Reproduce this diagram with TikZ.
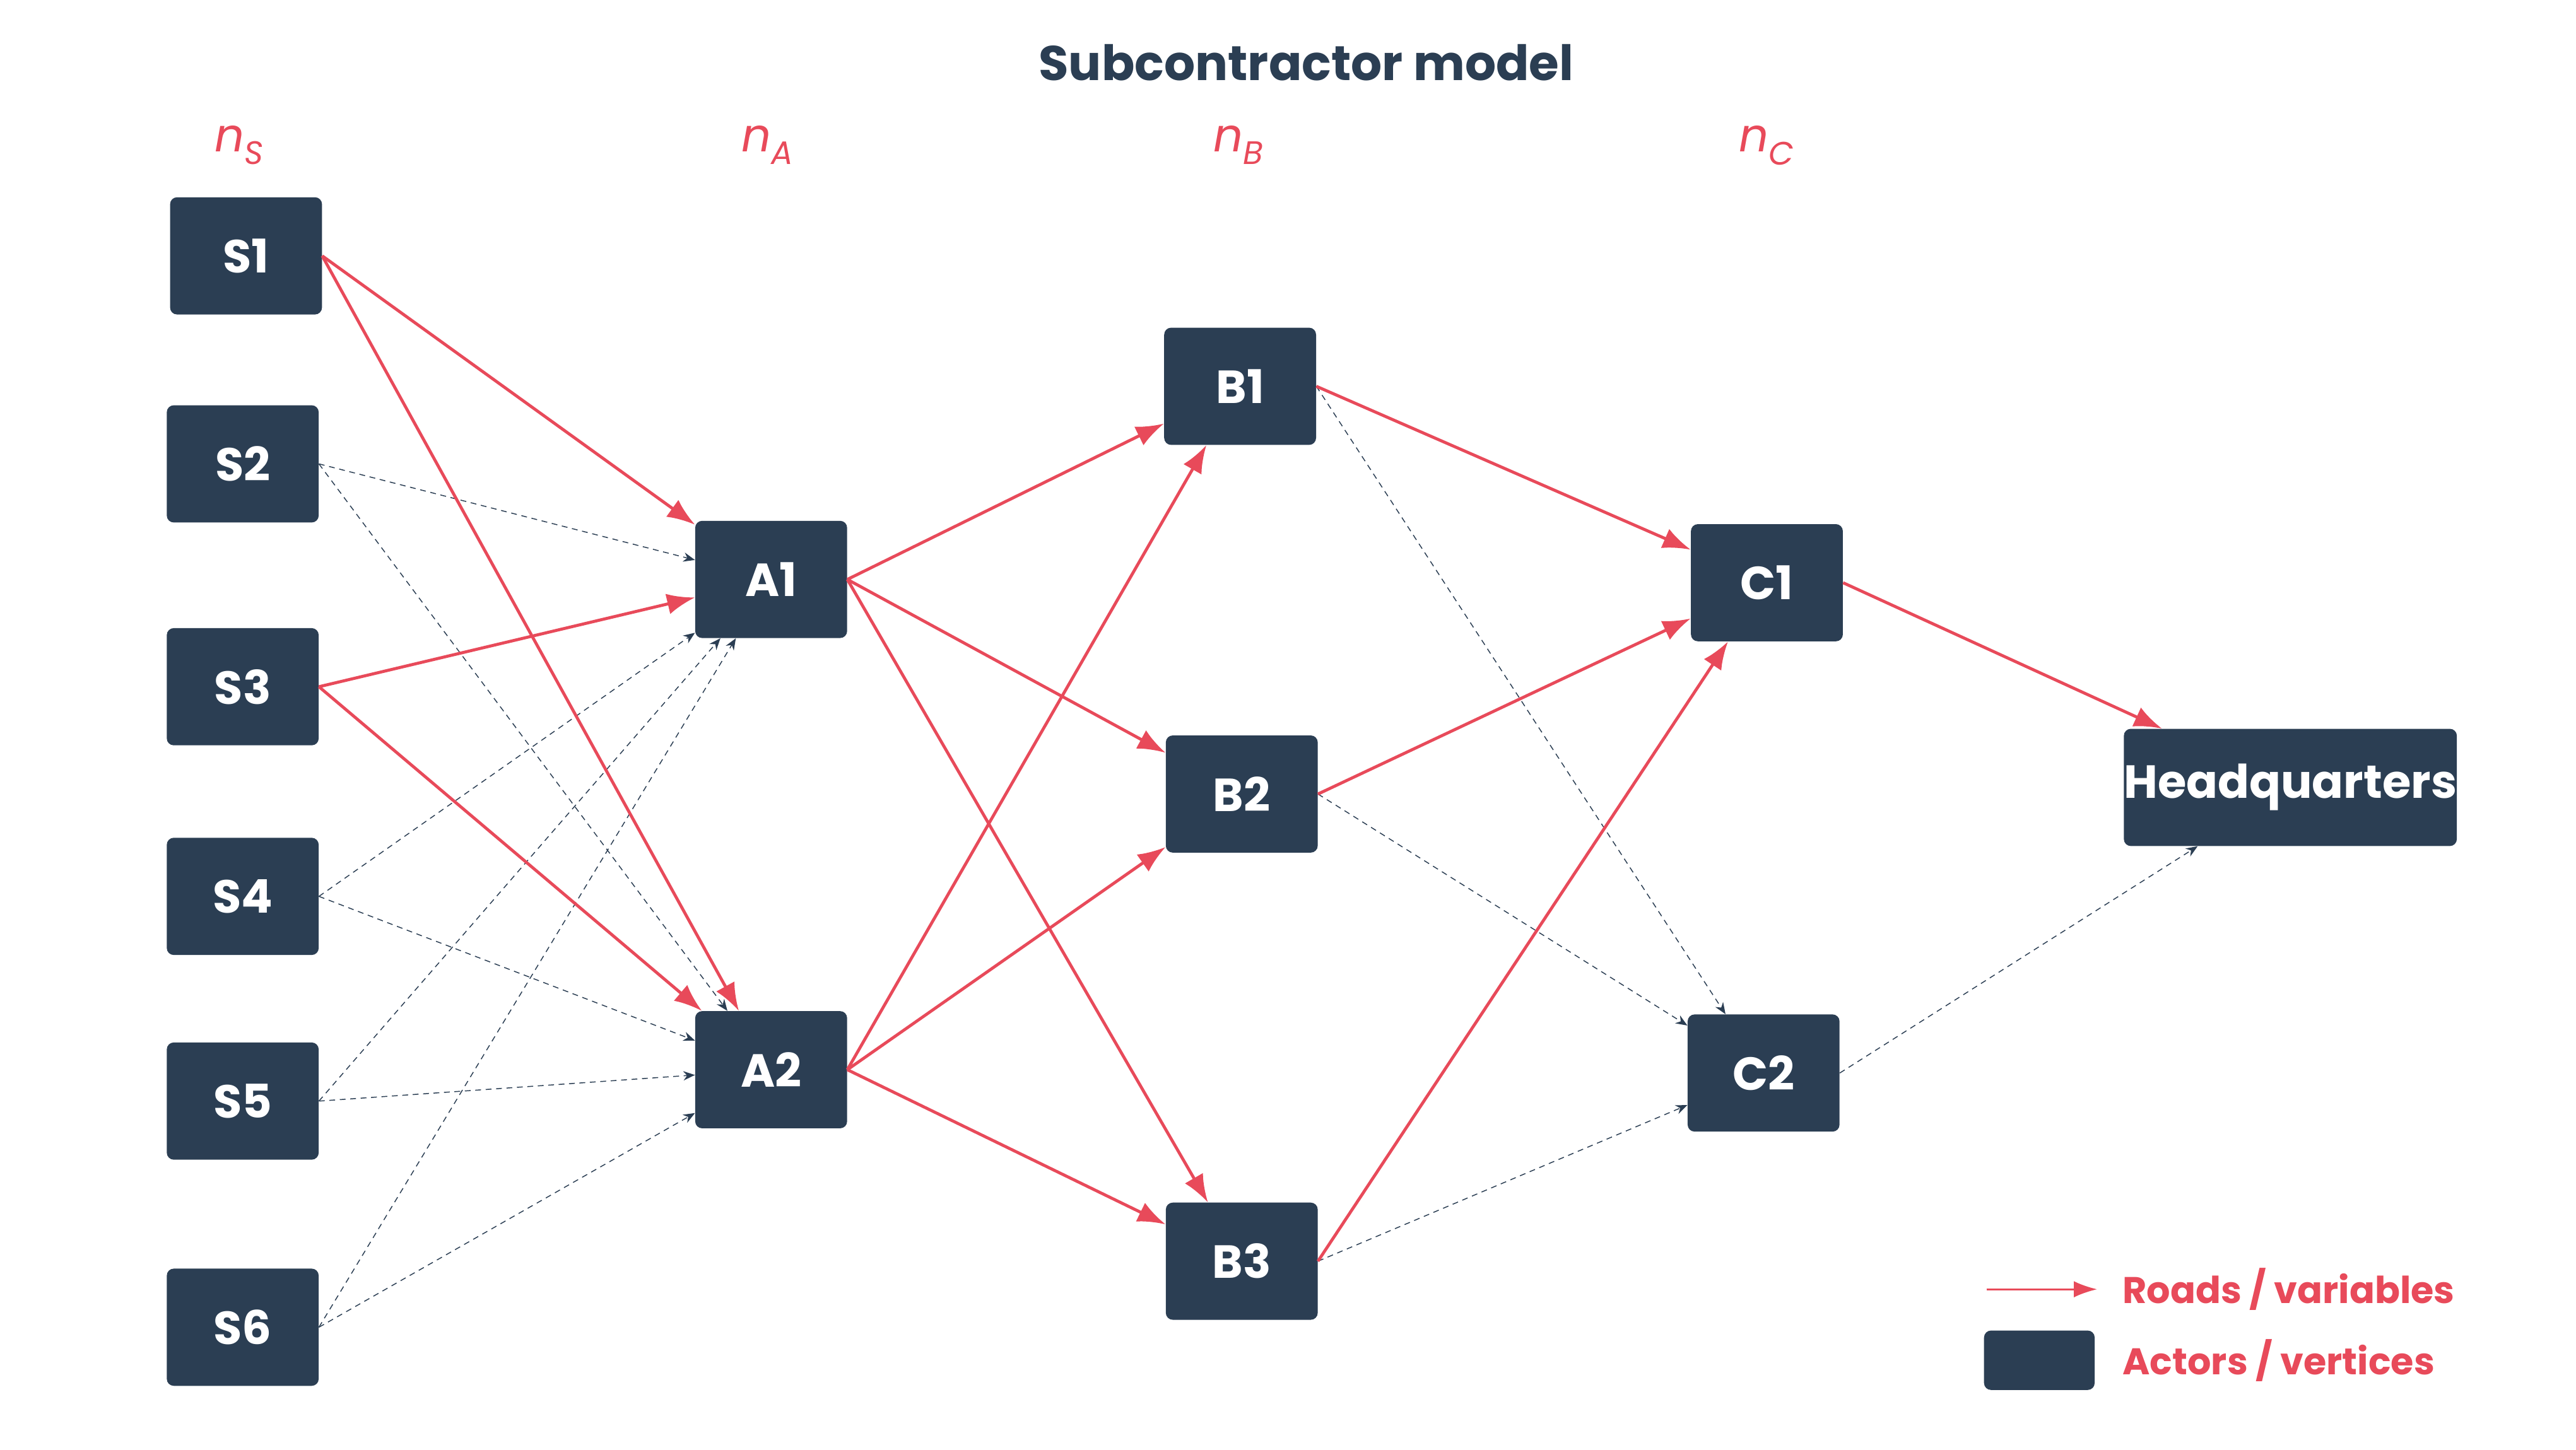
\documentclass[tikz,border=0pt]{standalone}
\usepackage{fontspec}
\setmainfont{Poppins}
\usetikzlibrary{arrows.meta}
\definecolor{navy}{HTML}{2B3E53}
\definecolor{rd}{HTML}{E84A5A}
\begin{document}
\begin{tikzpicture}[x=0.05cm,y=-0.05cm,
 box/.style={fill=navy,rounded corners=6pt,minimum width=4.6cm,minimum height=3.55cm,text=white,font=\fontsize{40}{48}\selectfont\bfseries,inner sep=0pt},
 road/.style={draw=rd,line width=2.6pt,-{Latex[length=24pt,width=18pt]}},
 dep/.style={draw=navy,line width=0.8pt,dash pattern=on 5pt off 4pt,-{Stealth[length=10pt,width=8pt]}},
 lab/.style={text=rd,font=\fontsize{40}{48}\selectfont\itshape}]
\useasboundingbox (0,0) rectangle (1560,878);
\node[font=\fontsize{42}{50}\selectfont\bfseries,text=navy] (title) at (791,38) {Subcontractor model};
\node[lab] (ns) at (145,88) {n\textsubscript{S}};
\node[lab] (na) at (465,88) {n\textsubscript{A}};
\node[lab] (nb) at (750,88) {n\textsubscript{B}};
\node[lab] (nc) at (1070,88) {n\textsubscript{C}};
\node[box] (S1) at (149,155) {S1};
\node[box] (S2) at (147,281) {S2};
\node[box] (S3) at (147,416) {S3};
\node[box] (S4) at (147,543) {S4};
\node[box] (S5) at (147,667) {S5};
\node[box] (S6) at (147,804) {S6};
\node[box] (A1) at (467,351) {A1};
\node[box] (A2) at (467,648) {A2};
\node[box] (B1) at (751,234) {B1};
\node[box] (B2) at (752,481) {B2};
\node[box] (B3) at (752,764) {B3};
\node[box] (C1) at (1070,353) {C1};
\node[box] (C2) at (1068,650) {C2};
\node[box,minimum width=10cm] (HQ) at (1387,477) {Headquarters};
% dashed
\foreach \s in {S2,S4,S5,S6}{\draw[dep] (\s.east) -- (A1); \draw[dep] (\s.east) -- (A2);}
\foreach \b in {B1,B2,B3}{\draw[dep] (\b.east) -- (C2);}
\draw[dep] (C2.east) -- (HQ);
% red
\foreach \s/\t in {S1/A1,S1/A2,S3/A1,S3/A2,A1/B1,A1/B2,A1/B3,A2/B1,A2/B2,A2/B3,B1/C1,B2/C1,B3/C1,C1/HQ}
 {\draw[road] (\s.east) -- (\t);}
% legend
\coordinate (l1) at (1203,781);
\coordinate (l2) at (1270,781);
\draw[draw=rd,line width=1.5pt,-{Latex[length=20pt,width=14pt]}] (l1) -- (l2);
\node[anchor=west,text=rd,font=\fontsize{32}{38}\selectfont\bfseries] (t1) at (1283,781) {Roads / variables};
\node[fill=navy,rounded corners=6pt,minimum width=3.35cm,minimum height=1.8cm,inner sep=0pt] (lb) at (1235,824) {};
\node[anchor=west,text=rd,font=\fontsize{32}{38}\selectfont\bfseries] (t2) at (1283,824) {Actors / vertices};
\end{tikzpicture}
\end{document}
